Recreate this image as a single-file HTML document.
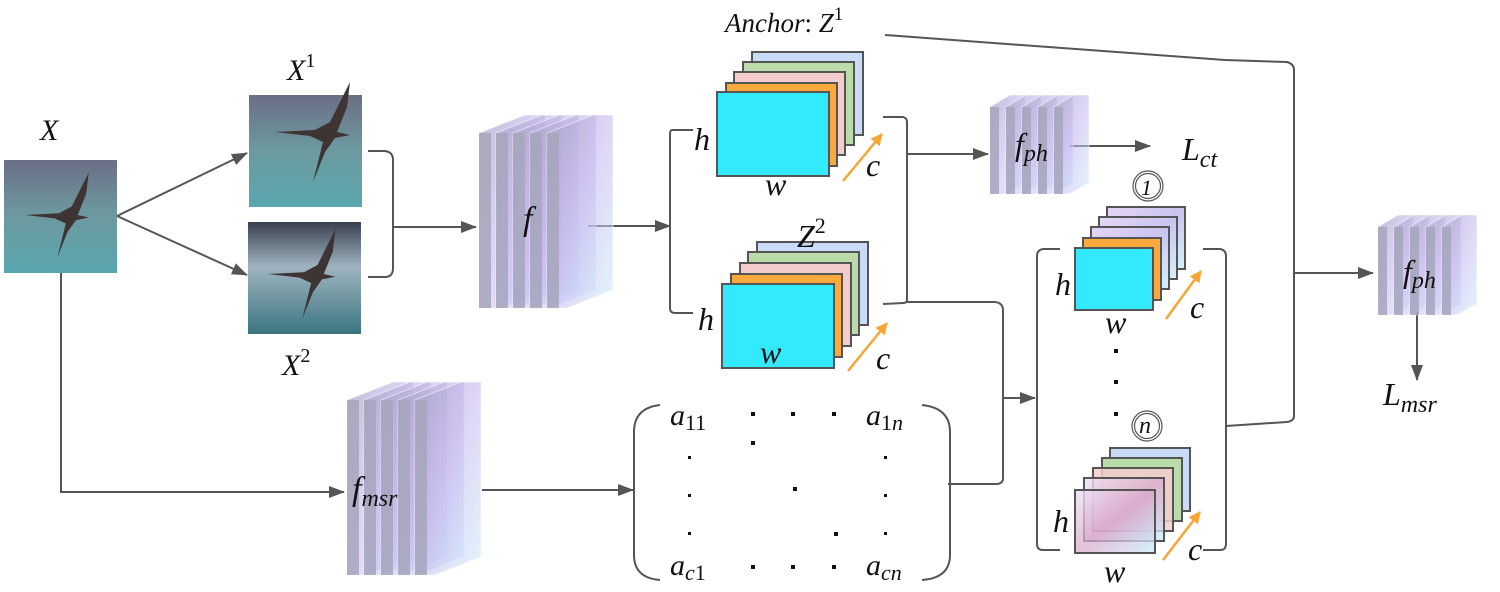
<!DOCTYPE html>
<html><head><meta charset="utf-8"><style>
html,body{margin:0;padding:0;background:#fff;}
svg text{font-family:"Liberation Serif",serif;font-style:italic;fill:#111;}
</style></head><body>
<svg width="1500" height="587" viewBox="0 0 1500 587" xmlns="http://www.w3.org/2000/svg">
<defs>
<marker id="ar2" viewBox="0 0 16 12" markerWidth="16" markerHeight="12" refX="15" refY="6" orient="auto" markerUnits="userSpaceOnUse"><path d="M0,0 L16,6 L0,12 z" fill="#555"/></marker>
<marker id="oa" viewBox="0 0 12 12" markerWidth="12" markerHeight="12" refX="11" refY="6" orient="auto" markerUnits="userSpaceOnUse"><path d="M0,0 L12,6 L0,12 z" fill="#f7a535"/></marker>
<linearGradient id="sea" x1="0" y1="0" x2="0" y2="1"><stop offset="0" stop-color="#6b6f86"/><stop offset="0.5" stop-color="#6c9aa0"/><stop offset="1" stop-color="#5aa6ae"/></linearGradient>
<linearGradient id="sea2" x1="0" y1="0" x2="0" y2="1"><stop offset="0" stop-color="#3a4050"/><stop offset="0.4" stop-color="#9fb4c0"/><stop offset="1" stop-color="#3a7580"/></linearGradient>
<linearGradient id="pl" x1="0" y1="0" x2="1" y2="1"><stop offset="0" stop-color="#a9a6c6" stop-opacity="0.75"/><stop offset="0.5" stop-color="#c4b4ee" stop-opacity="0.55"/><stop offset="1" stop-color="#c8ecfb" stop-opacity="0.55"/></linearGradient>
<linearGradient id="tp" x1="0" y1="0" x2="1" y2="1"><stop offset="0" stop-color="#e6d6f6"/><stop offset="0.5" stop-color="#c9c4ef"/><stop offset="1" stop-color="#d4f2fb"/></linearGradient>
<linearGradient id="tp2" x1="0" y1="0" x2="1" y2="1"><stop offset="0" stop-color="#efe4f8" stop-opacity="0.85"/><stop offset="0.5" stop-color="#d8a8cc" stop-opacity="0.7"/><stop offset="1" stop-color="#cceefa" stop-opacity="0.8"/></linearGradient>
<g id="bird"><path d="M0,0 L40,-2 L55,-10 L75,-50 L72,-25 L62,0 L75,3 L60,6 L50,20 L38,50 L48,10 L35,4 z" fill="#3d3433"/></g>
</defs>

<rect x="4" y="160" width="113" height="113" fill="url(#sea)"/>
<use href="#bird" transform="translate(25,215) scale(0.85)"/>
<rect x="249" y="95" width="113" height="112" fill="url(#sea)"/>
<use href="#bird" transform="translate(275,132) scale(1.0)"/>
<rect x="248" y="222" width="113" height="112" fill="url(#sea2)"/>
<use href="#bird" transform="translate(268,274) scale(0.9)"/>

<text x="40" y="140" font-size="30">X</text>
<text x="287" y="80" font-size="30">X<tspan font-style="normal" font-size="20" dy="-13">1</tspan></text>
<text x="282" y="375" font-size="30">X<tspan font-style="normal" font-size="20" dy="-13">2</tspan></text>

<g stroke="#555" stroke-width="2" fill="none">
<line x1="117" y1="216" x2="247" y2="153" marker-end="url(#ar2)"/>
<line x1="117" y1="216" x2="247" y2="275" marker-end="url(#ar2)"/>
<path d="M368,151 L385,151 Q393,152 393,160 L393,268 Q393,277 385,277 L368,277"/>
<line x1="393" y1="227" x2="476" y2="227" marker-end="url(#ar2)"/>
<path d="M61,273 L61,492 L344,492" marker-end="url(#ar2)"/>
<line x1="482" y1="490" x2="633" y2="490" marker-end="url(#ar2)"/>
<line x1="588" y1="226" x2="670" y2="226" marker-end="url(#ar2)"/>
<path d="M693,130 L672,130 Q670,130 670,135 L670,308 Q670,313 675,313 L693,313"/>
<path d="M883,117 L903,117 Q907,118 907,122 L907,300 Q907,303 903,303 L883,304"/>
<line x1="907" y1="154" x2="988" y2="154" marker-end="url(#ar2)"/>
<path d="M907,302 L995,302 Q1003,303 1003,310 L1003,478 Q1003,484 996,484 L948,484"/>
<line x1="1003" y1="398" x2="1035" y2="398" marker-end="url(#ar2)"/>
<line x1="1070" y1="146" x2="1150" y2="146" marker-end="url(#ar2)"/>
<path d="M885,35 L1225,60 L1287,62 Q1294,64 1294,70 L1294,416 Q1294,421 1287,422 L1226,426"/>
<line x1="1294" y1="273" x2="1373" y2="273" marker-end="url(#ar2)"/>
<line x1="1417" y1="312" x2="1417" y2="380" marker-end="url(#ar2)"/>
<path d="M1060,249 L1043,249 Q1037,250 1037,256 L1037,544 Q1037,550 1043,550 L1060,550"/>
<path d="M1203,249 L1220,249 Q1226,250 1226,256 L1226,544 Q1226,550 1220,550 L1203,550"/>
<path d="M660,405 Q634,408 634,432 L634,555 Q634,578 660,580"/>
<path d="M922,405 Q950,408 950,432 L950,555 Q950,578 922,580"/>
</g>

<g fill="url(#pl)" stroke="#fff" stroke-opacity="0.5" stroke-width="1">
<polygon points="479,133 525,115 545,115 545,290 499,308 479,308"/>
<polygon points="496,133 542,115 562,115 562,290 516,308 496,308"/>
<polygon points="513,133 559,115 579,115 579,290 533,308 513,308"/>
<polygon points="530,133 576,115 596,115 596,290 550,308 530,308"/>
<polygon points="547,133 593,115 613,115 613,290 567,308 547,308"/>
<polygon points="347,400 393,382 413,382 413,557 367,575 347,575"/>
<polygon points="364,400 410,382 430,382 430,557 384,575 364,575"/>
<polygon points="381,400 427,382 447,382 447,557 401,575 381,575"/>
<polygon points="398,400 444,382 464,382 464,557 418,575 398,575"/>
<polygon points="415,400 461,382 481,382 481,557 435,575 415,575"/>
<polygon points="990,107 1010,95 1025,95 1025,183 1005,194 990,194"/>
<polygon points="1006,107 1026,95 1041,95 1041,183 1021,194 1006,194"/>
<polygon points="1022,107 1042,95 1057,95 1057,183 1037,194 1022,194"/>
<polygon points="1038,107 1058,95 1073,95 1073,183 1053,194 1038,194"/>
<polygon points="1054,107 1074,95 1089,95 1089,183 1069,194 1054,194"/>
<polygon points="1378,227 1398,215 1413,215 1413,304 1393,315 1378,315"/>
<polygon points="1394,227 1414,215 1429,215 1429,304 1409,315 1394,315"/>
<polygon points="1410,227 1430,215 1445,215 1445,304 1425,315 1410,315"/>
<polygon points="1426,227 1446,215 1461,215 1461,304 1441,315 1426,315"/>
<polygon points="1442,227 1462,215 1477,215 1477,304 1457,315 1442,315"/>
</g>
<g fill="#a6a6bc" fill-opacity="0.85">
<rect x="479" y="133" width="12" height="175"/><rect x="496" y="133" width="12" height="175"/><rect x="513" y="133" width="12" height="175"/><rect x="530" y="133" width="12" height="175"/><rect x="547" y="133" width="12" height="175"/>
<rect x="347" y="400" width="12" height="175"/><rect x="364" y="400" width="12" height="175"/><rect x="381" y="400" width="12" height="175"/><rect x="398" y="400" width="12" height="175"/><rect x="415" y="400" width="12" height="175"/>
<rect x="990" y="107" width="9" height="87"/><rect x="1006" y="107" width="9" height="87"/><rect x="1022" y="107" width="9" height="87"/><rect x="1038" y="107" width="9" height="87"/><rect x="1054" y="107" width="9" height="87"/>
<rect x="1378" y="227" width="9" height="88"/><rect x="1394" y="227" width="9" height="88"/><rect x="1410" y="227" width="9" height="88"/><rect x="1426" y="227" width="9" height="88"/><rect x="1442" y="227" width="9" height="88"/>
</g>
<text x="523" y="230" font-size="34">f</text>
<text x="352" y="500" font-size="34">f<tspan font-size="24" dy="6">msr</tspan></text>
<text x="1015" y="155" font-size="32">f<tspan font-size="24" dy="6">ph</tspan></text>
<text x="1403" y="282" font-size="32">f<tspan font-size="24" dy="6">ph</tspan></text>
<text x="1182" y="160" font-size="32">L<tspan font-size="24" dy="7">ct</tspan></text>
<text x="1383" y="405" font-size="32">L<tspan font-size="24" dy="7">msr</tspan></text>

<g stroke="#555" stroke-width="2">
<rect x="752" y="52" width="111" height="83" fill="#c9dbf6"/>
<rect x="743" y="62" width="111" height="83" fill="#b9dcaa"/>
<rect x="734" y="72" width="111" height="83" fill="#f5cccc"/>
<rect x="726" y="83" width="111" height="83" fill="#fba93c"/>
<rect x="717" y="92" width="112" height="84" fill="#33eafd"/>
<rect x="757" y="242" width="111" height="83" fill="#c9dbf6"/>
<rect x="748" y="252" width="111" height="83" fill="#b9dcaa"/>
<rect x="740" y="263" width="111" height="83" fill="#f5cccc"/>
<rect x="731" y="274" width="111" height="83" fill="#fba93c"/>
<rect x="722" y="284" width="112" height="84" fill="#33eafd"/>
<rect x="1107" y="207" width="78" height="62" fill="url(#tp)"/>
<rect x="1099" y="217" width="78" height="62" fill="url(#tp)"/>
<rect x="1091" y="227" width="78" height="62" fill="url(#tp)"/>
<rect x="1083" y="238" width="78" height="62" fill="#fba93c"/>
<rect x="1075" y="248" width="78" height="62" fill="#33eafd"/>
<rect x="1110" y="448" width="80" height="63" fill="#c9dbf6"/>
<rect x="1102" y="458" width="80" height="63" fill="#b9dcaa"/>
<rect x="1093" y="468" width="80" height="63" fill="#f5cccc" fill-opacity="0.85"/>
<rect x="1084" y="478" width="80" height="63" fill="url(#tp2)"/>
<rect x="1075" y="490" width="80" height="63" fill="url(#tp2)"/>
</g>
<g stroke="#f7a535" stroke-width="2.5">
<line x1="843" y1="181" x2="882" y2="134" marker-end="url(#oa)"/>
<line x1="848" y1="371" x2="887" y2="323" marker-end="url(#oa)"/>
<line x1="1166" y1="319" x2="1201" y2="271" marker-end="url(#oa)"/>
<line x1="1163" y1="560" x2="1200" y2="512" marker-end="url(#oa)"/>
</g>
<g font-size="32">
<text x="694" y="150">h</text><text x="765" y="195">w</text><text x="866" y="176">c</text>
<text x="698" y="330">h</text><text x="760" y="363">w</text><text x="876" y="369">c</text>
<text x="1055" y="295">h</text><text x="1105" y="333">w</text><text x="1190" y="318">c</text>
<text x="1053" y="532">h</text><text x="1104" y="582">w</text><text x="1188" y="560">c</text>
<text x="797" y="247">Z<tspan font-style="normal" font-size="22" dy="-14">2</tspan></text>
<text x="725" y="32" font-size="27">Anchor<tspan font-style="normal">: </tspan>Z<tspan font-style="normal" font-size="19" dy="-12">1</tspan></text>
</g>
<g fill="none" stroke="#555" stroke-width="1.2">
<circle cx="1148" cy="186" r="15"/><circle cx="1148" cy="186" r="12.5"/>
<circle cx="1147" cy="426" r="15"/><circle cx="1147" cy="426" r="12.5"/>
</g>
<text x="1141" y="195" font-size="22" font-style="normal">1</text>
<text x="1139" y="433" font-size="24">n</text>
<g fill="#111">
<rect x="1114" y="349" width="4" height="4"/><rect x="1114" y="380" width="4" height="4"/><rect x="1114" y="412" width="4" height="4"/>
</g>
<g font-size="30">
<text x="670" y="425">a<tspan font-style="normal" font-size="22" dy="5">11</tspan></text>
<text x="866" y="425">a<tspan font-size="22" dy="5" font-style="normal">1</tspan><tspan font-size="22">n</tspan></text>
<text x="670" y="575">a<tspan font-size="22" dy="5">c</tspan><tspan font-size="22" font-style="normal">1</tspan></text>
<text x="866" y="575">a<tspan font-size="22" dy="5">cn</tspan></text>
</g>
<g fill="#111">
<rect x="751" y="412" width="4" height="4"/><rect x="791" y="412" width="4" height="4"/><rect x="832" y="412" width="4" height="4"/>
<rect x="751" y="441" width="4" height="4"/>
<rect x="688" y="456" width="3" height="3"/><rect x="884" y="456" width="3" height="3"/>
<rect x="793" y="487" width="4" height="4"/>
<rect x="688" y="494" width="3" height="3"/><rect x="884" y="494" width="3" height="3"/>
<rect x="834" y="532" width="4" height="4"/>
<rect x="688" y="532" width="3" height="3"/><rect x="884" y="532" width="3" height="3"/>
<rect x="751" y="565" width="4" height="4"/><rect x="791" y="565" width="4" height="4"/><rect x="832" y="565" width="4" height="4"/>
</g>
</svg>
</body></html>
